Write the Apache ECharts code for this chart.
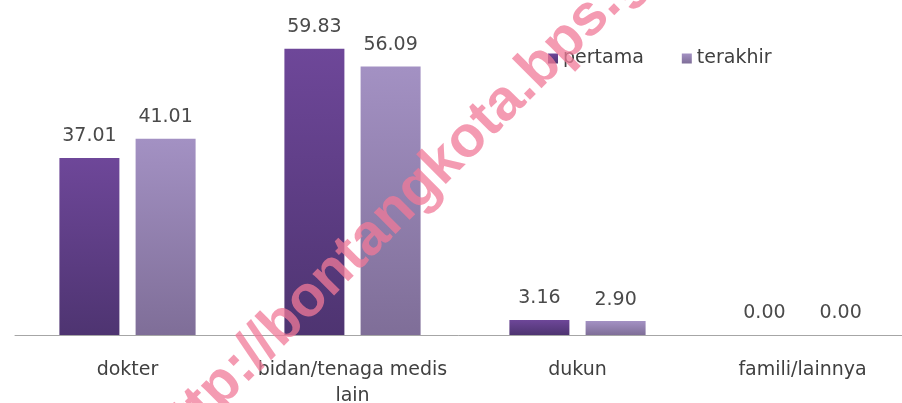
<!DOCTYPE html>
<html>
<head>
<meta charset="utf-8">
<script src="https://cdn.jsdelivr.net/npm/echarts@6/dist/echarts.min.js"></script>
<style>
  html, body { margin: 0; padding: 0; background: #fff; }
  #chart { width: 902px; height: 403px; }
</style>
</head>
<body>
<div id="chart"></div>
<script>
const categories = ['dokter', 'bidan/tenaga medis\nlain', 'dukun', 'famili/lainnya'];
const seriesNames = ['pertama', 'terakhir'];
const pertama = [37.01, 59.83, 3.16, 0.00];
const terakhir = [41.01, 56.09, 2.90, 0.00];
const watermark = 'http://bontangkota.bps.go.id';

const font = 'DejaVu Sans';
const chart = echarts.init(document.getElementById('chart'));

function grad(top, bottom) {
  return new echarts.graphic.LinearGradient(0, 0, 0, 1, [
    { offset: 0, color: top },
    { offset: 1, color: bottom }
  ]);
}

const labelStyle = {
  show: true,
  position: 'top',
  distance: 12,
  fontFamily: font,
  fontSize: 19,
  color: '#4a4a4a',
  formatter: p => p.value.toFixed(2)
};

const option = {
  backgroundColor: '#fff',
  animation: false,
  grid: { left: 15, width: 900, top: 0, bottom: 68, outerBoundsMode: 'none', containLabel: false },
  legend: {
    left: 543,
    top: 44,
    itemWidth: 10,
    itemHeight: 10,
    itemGap: 38,
    icon: 'rect',
    textStyle: { fontFamily: font, fontSize: 19, color: '#404040' },
    data: seriesNames
  },
  xAxis: {
    type: 'category',
    data: categories,
    axisLine: { lineStyle: { color: '#a6a6a6', width: 1 } },
    axisTick: { show: false },
    axisLabel: {
      interval: 0,
      margin: 22,
      fontFamily: font,
      fontSize: 19,
      color: '#404040',
      lineHeight: 26
    }
  },
  yAxis: {
    type: 'value',
    min: 0,
    max: 70,
    show: false,
    splitLine: { show: false }
  },
  series: [
    {
      name: seriesNames[0],
      type: 'bar',
      data: pertama,
      barWidth: 60,
      barGap: '27%',
      itemStyle: { color: grad('#6e4799', '#4e3471') },
      label: labelStyle
    },
    {
      name: seriesNames[1],
      type: 'bar',
      data: terakhir,
      barWidth: 60,
      itemStyle: { color: grad('#a391c3', '#7f6e98') },
      label: labelStyle
    }
  ],
  graphic: [
    {
      type: 'text',
      x: 156,
      y: 451,
      rotation: 45 * Math.PI / 180,
      z: 100,
      style: {
        text: watermark,
        fontFamily: 'Liberation Sans',
        fontWeight: 'bold',
        fontSize: 58,
        fill: '#f07a98',
        opacity: 0.75,
        textAlign: 'left',
        textVerticalAlign: 'middle'
      }
    }
  ]
};

chart.setOption(option);
</script>
</body>
</html>
